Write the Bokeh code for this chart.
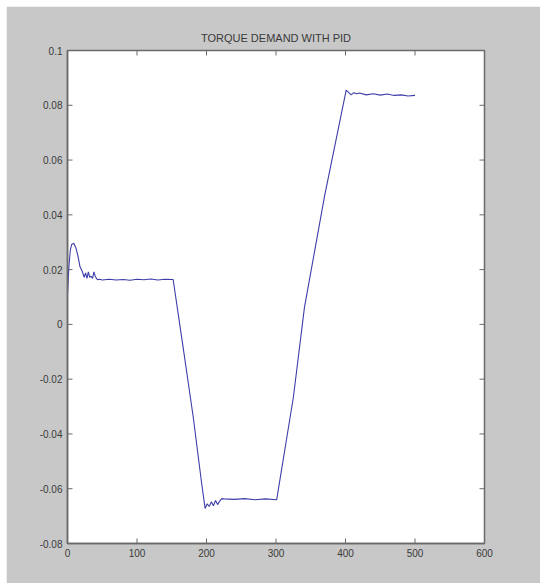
import math
from bokeh.plotting import figure
from bokeh.models import FixedTicker, LinearAxis, Range1d, Spacer
from bokeh.layouts import column, row
from bokeh.embed import file_html
from bokeh.resources import INLINE

# ---- data ----
time = [0, 2, 4, 6, 9, 12, 15, 18, 21, 24, 26, 28, 30, 32, 34, 36, 38, 40, 43, 46,
        50, 60, 70, 80, 90, 100, 110, 120, 130, 140, 152,
        167, 181, 193, 198, 201, 204, 207, 210, 213, 216, 219, 222, 225,
        240, 255, 270, 285, 301,
        325, 341, 370, 401, 404, 408, 412, 416, 420,
        430, 440, 450, 460, 470, 480, 490, 500]
torque = [0.011, 0.021, 0.027, 0.0292, 0.0296, 0.028, 0.025, 0.021, 0.0195, 0.0172,
          0.0188, 0.0168, 0.0192, 0.0172, 0.0176, 0.0168, 0.0192, 0.0175, 0.0163, 0.0165,
          0.0162, 0.0165, 0.0162, 0.0164, 0.0161, 0.0165, 0.0163, 0.0166, 0.0162, 0.0165, 0.0164,
          -0.0095, -0.034, -0.058, -0.0672, -0.0655, -0.0665, -0.0648, -0.0662, -0.0643,
          -0.0658, -0.0645, -0.0636, -0.0637,
          -0.0639, -0.0636, -0.064, -0.0637, -0.064,
          -0.0266, 0.0063, 0.047, 0.0855, 0.0848, 0.0838, 0.0846, 0.0842, 0.0845,
          0.0838, 0.0842, 0.0837, 0.0841, 0.0836, 0.0838, 0.0834, 0.0836]

x_ticks = [0, 100, 200, 300, 400, 500, 600]
x_tick_labels = ["0", "100", "200", "300", "400", "500", "600"]
y_ticks = [-0.08, -0.06, -0.04, -0.02, 0, 0.02, 0.04, 0.06, 0.08, 0.1]
y_tick_labels = ["-0.08", "-0.06", "-0.04", "-0.02", "0", "0.02", "0.04", "0.06", "0.08", "0.1"]
title_text = "TORQUE DEMAND WITH PID"

x_min, x_max = 0, 600
y_min, y_max = -0.08, 0.1

GRAY = "#c8c8c8"
AXC = "#6a6a6a"
TXT = "#3a3a3a"
FONT = "Liberation Sans"

p = figure(width=534, height=577, output_backend="svg", toolbar_location=None,
           x_range=Range1d(x_min, x_max), y_range=Range1d(y_min, y_max),
           x_axis_type=None, y_axis_type=None,
           min_border_left=61, min_border_right=56, min_border_top=44, min_border_bottom=40,
           background_fill_color="white", border_fill_color=GRAY,
           outline_line_color=AXC, outline_line_width=1.5)
p.grid.visible = False

p.title.text = title_text
p.title.align = "center"
p.title.text_font = FONT
p.title.text_font_size = "11px"
p.title.text_font_style = "normal"
p.title.text_color = TXT
p.title.standoff = 13


def make_axis(ticks, labels):
    ax = LinearAxis(ticker=FixedTicker(ticks=ticks))
    ax.major_label_overrides = {t: l for t, l in zip(ticks, labels)}
    ax.axis_line_color = AXC
    ax.axis_line_width = 1.5
    ax.major_tick_line_color = None
    ax.major_tick_in = 0
    ax.major_tick_out = 0
    ax.minor_tick_line_color = None
    ax.major_label_text_font = FONT
    ax.major_label_text_font_size = "10px"
    ax.major_label_text_color = TXT
    ax.major_label_standoff = 5
    return ax


p.add_layout(make_axis(x_ticks, x_tick_labels), "below")
p.add_layout(make_axis(y_ticks, y_tick_labels), "left")

# inward tick marks on all four sides (MATLAB box style)
tick_kw = dict(length=5, length_units="screen", line_color=AXC, line_width=1)
p.ray(x=[x_min] * len(y_ticks), y=y_ticks, angle=0, **tick_kw)
p.ray(x=[x_max] * len(y_ticks), y=y_ticks, angle=math.pi, **tick_kw)
p.ray(x=x_ticks, y=[y_min] * len(x_ticks), angle=math.pi / 2, **tick_kw)
p.ray(x=x_ticks, y=[y_max] * len(x_ticks), angle=-math.pi / 2, **tick_kw)

p.line(time, torque, line_color="#3d3daa", line_width=1.1)

layout = column(Spacer(width=540, height=6),
                row(Spacer(width=6, height=577), p))

open("out.html", "w").write(file_html(layout, INLINE))
